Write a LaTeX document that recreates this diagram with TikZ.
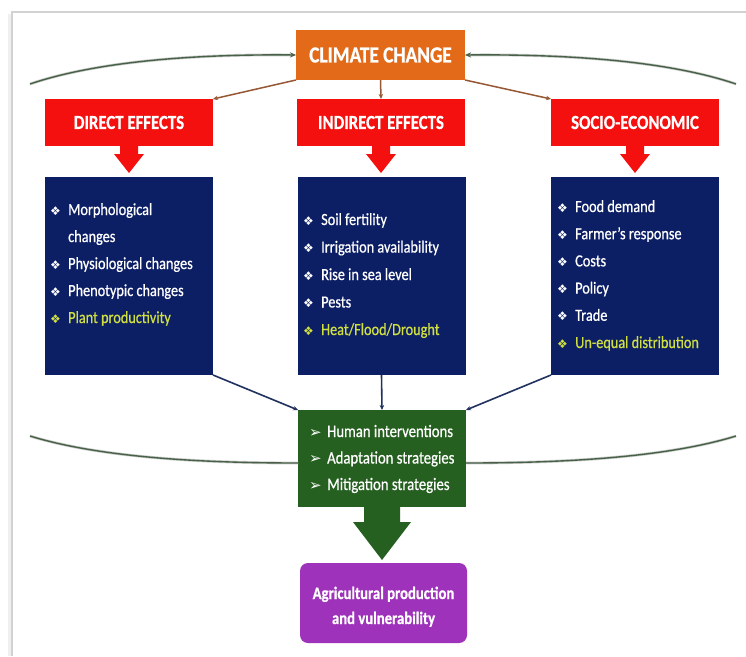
\documentclass[tikz,border=0pt]{standalone}
\usepackage{fontspec}
\setmainfont{Carlito}[FakeStretch=0.84,FakeBold=0.7]
\newfontfamily\symf{DejaVu Sans}
\usetikzlibrary{arrows.meta}
\definecolor{orangec}{RGB}{226,106,24}
\definecolor{redc}{RGB}{245,16,16}
\definecolor{navyc}{RGB}{12,30,100}
\definecolor{greenc}{RGB}{38,96,32}
\definecolor{purplec}{RGB}{158,50,186}
\definecolor{brownc}{RGB}{150,88,52}
\definecolor{bluearr}{RGB}{34,50,96}
\definecolor{arcc}{RGB}{72,98,72}
\definecolor{yelc}{RGB}{208,224,64}
\newcommand{\dbul}{\makebox[18pt][l]{\raisebox{0pt}{\symf\fontsize{12}{12}\selectfont ❖}}}
\newcommand{\garrowbul}{\makebox[18pt][l]{\symf\fontsize{15}{15}\selectfont ➢}}
\begin{document}
\begin{tikzpicture}[x=1pt,y=-1pt,
  hdr/.style={fill=redc, text=white, font=\fontsize{20}{22}\selectfont\bfseries, minimum width=168pt, minimum height=47pt, inner sep=0pt, outer sep=0pt},
  panel/.style={fill=navyc, minimum width=168pt, minimum height=198pt, inner sep=0pt, outer sep=0pt},
  listtext/.style={text=white, anchor=base west, inner sep=0pt},
  arcline/.style={draw=arcc, line width=1.4pt, preaction={draw=gray!40, line width=2.8pt}},
  brownarr/.style={draw=brownc, line width=1.5pt, -{Stealth[length=5pt,width=4.5pt]}},
  bluearrow/.style={draw=bluearr, line width=1.6pt, -{Stealth[length=5pt,width=4.5pt]}}]
\useasboundingbox (0,0) rectangle (746,656);
\fill[white] (0,0) rectangle (746,656);
% frame
\draw[gray!12, line width=3pt] (9,656) -- (9,14);
\draw[gray!35, line width=1.2pt] (12,656) -- (12,12) -- (746,12);

% main boxes
\node[fill=orangec, minimum width=169pt, minimum height=50pt, inner sep=0pt, outer sep=0pt, text=white, font=\fontsize{23}{25}\selectfont\bfseries] (cc) at (380.5,55) {CLIMATE CHANGE};
\node[hdr] (de) at (129,122.5) {DIRECT EFFECTS};
\node[hdr] (ie) at (381,122.5) {INDIRECT EFFECTS};
\node[hdr] (se) at (635,122.5) {SOCIO-ECONOMIC};
\node[panel] (db) at (129,276) {};
\node[panel] (ib) at (381.5,276) {};
\node[panel] (sb) at (635,276) {};
\node[fill=greenc, minimum width=168pt, minimum height=97pt, inner sep=0pt, outer sep=0pt] (gb) at (382,458.5) {};
\node[fill=purplec, rounded corners=8pt, minimum width=167pt, minimum height=80pt, inner sep=0pt, outer sep=0pt] (pb) at (383.5,603) {};

% arcs
\draw[arcline, -{Stealth[length=6pt,width=5pt]}] (30,84) .. controls (95,62) and (190,54) .. (cc.west);
\draw[arcline, -{Stealth[length=6pt,width=5pt]}] (736,84) .. controls (671,62) and (576,54) .. (cc.east);
\draw[arcline] (30,436) .. controls (95,456) and (190,463) .. ([yshift=-4.5pt]gb.west);
\draw[arcline] (736,436) .. controls (671,456) and (576,463) .. ([yshift=-4.5pt]gb.east);

% connectors
\draw[brownarr] (cc.south west) -- (de.north east);
\draw[brownarr] (cc.south) -- (ie.north);
\draw[brownarr] (cc.south east) -- (se.north west);
\draw[bluearrow] (db.south east) -- (gb.north west);
\draw[bluearrow] (ib.south) -- (gb.north);
\draw[bluearrow] (sb.south west) -- (gb.north east);

% block arrows
\foreach \n in {de,ie,se}{
  \fill[redc] (\n.south) ++(-9,-1) -- ++(0,9) -- ++(-6,0) -- ++(15,19) -- ++(15,-19) -- ++(-6,0) -- ++(0,-9) -- cycle;
}
\fill[greenc] (gb.south) ++(-18,-1) -- ++(0,16) -- ++(-11,0) -- ++(29,38) -- ++(29,-38) -- ++(-11,0) -- ++(0,-16) -- cycle;

% lists
\node[listtext, font=\fontsize{17}{27}\selectfont] (dl) at (50,215) {\begin{tabular}[t]{@{}l@{}}
\dbul Morphological\\
\hspace*{18pt}changes\\
\dbul Physiological changes\\
\dbul Phenotypic changes\\
\color{yelc}\dbul Plant productivity
\end{tabular}};
\node[listtext, font=\fontsize{17}{27.5}\selectfont] (il) at (303,225) {\begin{tabular}[t]{@{}l@{}}
\dbul Soil fertility\\
\dbul Irrigation availability\\
\dbul Rise in sea level\\
\dbul Pests\\
\color{yelc}\dbul Heat/Flood/Drought
\end{tabular}};
\node[listtext, font=\fontsize{17}{27.2}\selectfont] (sl) at (557,212) {\begin{tabular}[t]{@{}l@{}}
\dbul Food demand\\
\dbul Farmer’s response\\
\dbul Costs\\
\dbul Policy\\
\dbul Trade\\
\color{yelc}\dbul Un-equal distribution
\end{tabular}};
\node[listtext, font=\fontsize{17.5}{26.5}\selectfont] (gl) at (309,437) {\begin{tabular}[t]{@{}l@{}}
\garrowbul Human interventions\\
\garrowbul Adaptation strategies\\
\garrowbul Mitigation strategies
\end{tabular}};
\node[text=white, anchor=base, inner sep=0pt, font=\fontsize{17.5}{25}\selectfont\bfseries] (pl) at (383.5,599) {\begin{tabular}[t]{@{}c@{}}
Agricultural production\\
and vulnerability
\end{tabular}};
\end{tikzpicture}
\end{document}
